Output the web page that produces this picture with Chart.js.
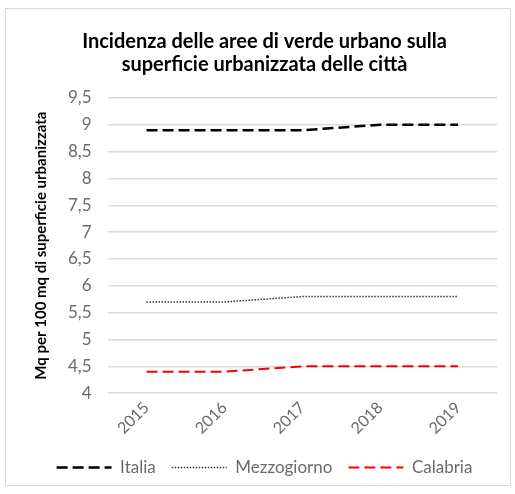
<!DOCTYPE html>
<html>
<head>
<meta charset="utf-8">
<script src="https://cdn.jsdelivr.net/npm/chart.js@4"></script>
<style>
  body { margin: 0; background: #fff; }
  #wrap {
    position: absolute; left: 5px; top: 8px; width: 506px; height: 478px;
    border: 1px solid #d9d9d9; box-sizing: border-box;
  }
</style>
</head>
<body>
<div id="wrap"><canvas id="chart"></canvas></div>
<script>
  const years = ["2015", "2016", "2017", "2018", "2019"];
  const italia = [8.9, 8.9, 8.9, 9.0, 9.0];
  const mezzogiorno = [5.7, 5.7, 5.8, 5.8, 5.8];
  const calabria = [4.4, 4.4, 4.5, 4.5, 4.5];

  const font = "Lato, 'Open Sans', sans-serif";
  const grey = "#6b6b6b";

  const ctx = document.getElementById("chart").getContext("2d");
  new Chart(ctx, {
    type: "line",
    data: {
      labels: years,
      datasets: [
        {
          label: "Italia",
          data: italia,
          borderColor: "#000000",
          borderWidth: 2.5,
          borderDash: [11, 5],
          fill: false,
        },
        {
          label: "Mezzogiorno",
          data: mezzogiorno,
          borderColor: "#333333",
          borderWidth: 1.5,
          borderDash: [1.5, 1.5],
          fill: false,
        },
        {
          label: "Calabria",
          data: calabria,
          borderColor: "#ff0000",
          borderWidth: 2,
          borderDash: [11, 5],
          fill: false,
        },
      ],
    },
    options: {
      responsive: true,
      maintainAspectRatio: false,
      animation: false,
      layout: { padding: { left: 26, right: 13, top: 16, bottom: -1 } },
      elements: { point: { radius: 0 }, line: { tension: 0 } },
      plugins: {
        title: {
          display: true,
          text: ["Incidenza delle aree di verde urbano sulla", "superficie urbanizzata delle città"],
          color: "#000000",
          font: { family: font, size: 20, weight: "bold", lineHeight: 1.15 },
          padding: { top: 5, bottom: 22 },
        },
        legend: {
          position: "bottom",
          labels: {
            usePointStyle: true,
            pointStyle: "line",
            pointStyleWidth: 55,
            color: grey,
            font: { family: font, size: 17 },
            padding: 16,
            generateLabels: (chart) =>
              Chart.defaults.plugins.legend.labels.generateLabels(chart).map((item) => {
                const ds = chart.data.datasets[item.datasetIndex];
                item.lineDash = ds.borderDash;
                item.lineWidth = ds.borderWidth;
                return item;
              }),
          },
        },
        tooltip: { enabled: false },
      },
      scales: {
        x: {
          offset: true,
          grid: { display: false, drawTicks: false },
          border: { display: false },
          ticks: {
            color: grey,
            font: { family: font, size: 16 },
            minRotation: 45,
            maxRotation: 45,
            padding: 5,
          },
        },
        y: {
          min: 4,
          max: 9.5,
          grid: { color: "#d9d9d9", lineWidth: 1.5, drawTicks: false },
          border: { display: false },
          ticks: {
            stepSize: 0.5,
            color: grey,
            padding: 16,
            font: { family: font, size: 17 },
            callback: (v) => String(v).replace(".", ","),
          },
          title: {
            display: true,
            text: "Mq per 100 mq di superficie urbanizzata",
            color: "#000000",
            font: { family: font, size: 15, weight: "bold" },
            padding: { top: 0, bottom: 2 },
          },
        },
      },
    },
  });
</script>
</body>
</html>
